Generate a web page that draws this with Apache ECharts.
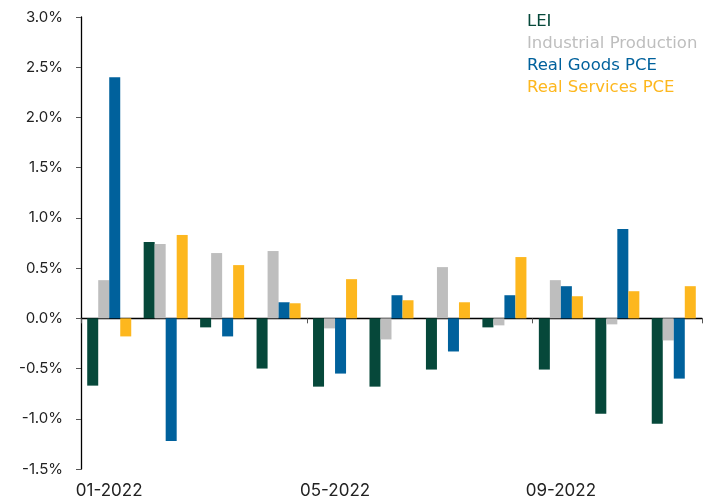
<!DOCTYPE html>
<html>
<head>
<meta charset="utf-8">
<script src="https://cdn.jsdelivr.net/npm/echarts@6/dist/echarts.min.js"></script>
<style>
  html, body { margin: 0; padding: 0; background: #fff; }
  #chart { width: 714px; height: 501px; }
</style>
</head>
<body>
<div id="chart"></div>
<script>
  // monthly change, %
  const months = ['01-2022', '02-2022', '03-2022', '04-2022', '05-2022', '06-2022',
                  '07-2022', '08-2022', '09-2022', '10-2022', '11-2022']
  const lei = [-0.67, 0.76, -0.09, -0.50, -0.68, -0.68, -0.51, -0.09, -0.51, -0.95, -1.05]
  const industrialProduction = [0.38, 0.74, 0.65, 0.67, -0.10, -0.21, 0.51, -0.07, 0.38, -0.06, -0.22]
  const realGoodsPce = [2.40, -1.22, -0.18, 0.16, -0.55, 0.23, -0.33, 0.23, 0.32, 0.89, -0.60]
  const realServicesPce = [-0.18, 0.83, 0.53, 0.15, 0.39, 0.18, 0.16, 0.61, 0.22, 0.27, 0.32]

  const font = 'Inter'
  const legendFont = 'DejaVu Sans'
  const colors = ['#06483a', '#bebebe', '#00619c', '#fdb71e']
  const names = ['LEI', 'Industrial Production', 'Real Goods PCE', 'Real Services PCE']
  const values = [lei, industrialProduction, realGoodsPce, realServicesPce]

  let chart = echarts.init(document.getElementById('chart'))
  let option = {
    animation: false,
    textStyle: { fontFamily: font },
    grid: { left: 81, right: 12, top: 17, bottom: 32 },
    legend: {
      orient: 'vertical',
      left: 517,
      top: 8,
      itemWidth: 0,
      itemHeight: 0,
      itemGap: 5,
      selectedMode: false,
      data: names.map((n, i) => ({
        name: n,
        icon: 'none',
        textStyle: { color: colors[i], fontSize: 16.5, fontFamily: legendFont }
      }))
    },
    xAxis: [{
      // zero line with ticks every 4 months
      type: 'category',
      data: months,
      axisLine: { onZero: true, lineStyle: { color: '#000', width: 1.3 } },
      axisTick: {
        show: true,
        interval: idx => idx % 4 === 0,
        length: 5,
        lineStyle: { color: '#555' }
      },
      axisLabel: { show: false }
    }, {
      // labels only, along the bottom
      type: 'category',
      data: months,
      position: 'bottom',
      axisLine: { show: false, onZero: false },
      axisTick: { show: false },
      axisLabel: {
        interval: 3,
        color: '#222',
        fontSize: 17,
        margin: 13
      }
    }],
    yAxis: {
      type: 'value',
      min: -1.5,
      max: 3,
      interval: 0.5,
      axisLine: { show: true, lineStyle: { color: '#000', width: 1.3 } },
      axisTick: { show: true, length: 5, lineStyle: { color: '#555' } },
      splitLine: { show: false },
      axisLabel: {
        color: '#222',
        fontSize: 15,
        margin: 18,
        formatter: v => v.toFixed(1) + '%'
      }
    },
    series: names.map((n, i) => ({
      name: n,
      type: 'bar',
      data: values[i],
      barGap: '0%',
      barCategoryGap: '22%',
      itemStyle: { color: colors[i] }
    }))
  }
  chart.setOption(option)
</script>
</body>
</html>
